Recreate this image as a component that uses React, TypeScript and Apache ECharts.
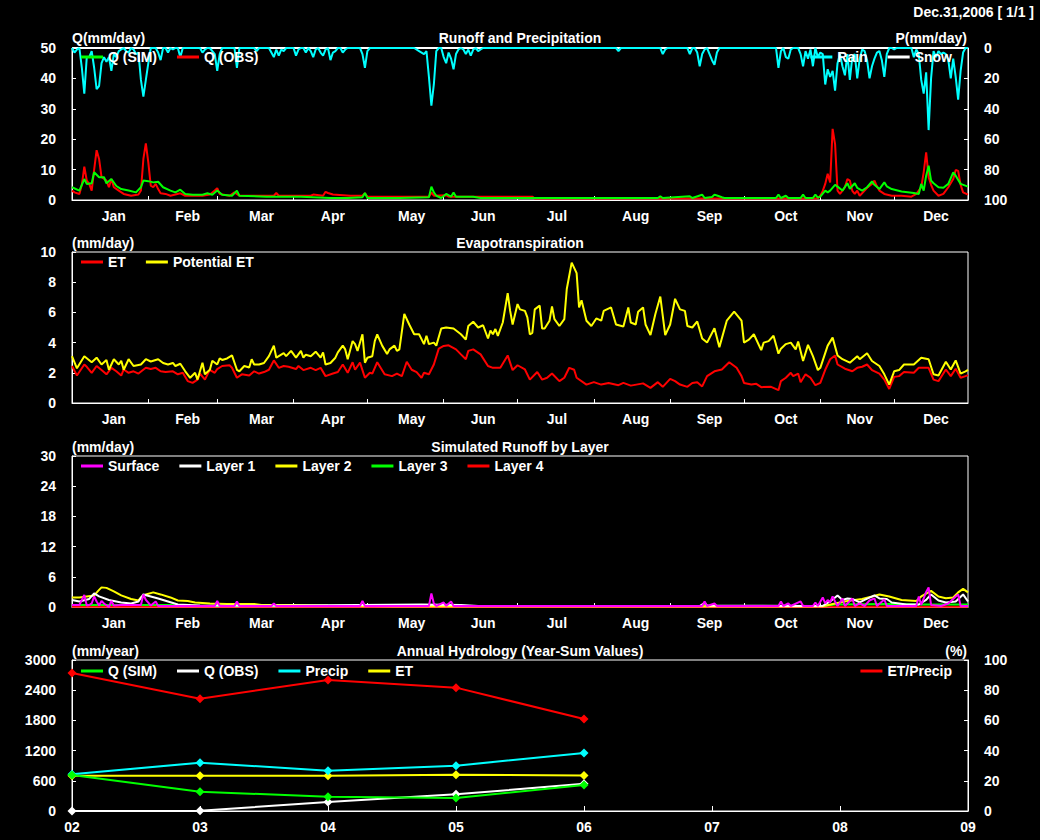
import React, { useEffect, useRef } from "react";
import * as echarts from "echarts";

// ---------- axis data ----------
const DAYS: string[] = Array.from({ length: 365 }, (_, i) => String(i));
const MONTH_NAMES = ["Jan", "Feb", "Mar", "Apr", "May", "Jun", "Jul", "Aug", "Sep", "Oct", "Nov", "Dec"];
const MONTH_STARTS = [0, 31, 59, 90, 120, 151, 181, 212, 243, 273, 304, 334];
const MONTH_LABEL_DAYS = [17, 47, 77, 106, 138, 167, 197, 229, 259, 290, 320, 351];
const YEAR_LABELS = ["02", "03", "04", "05", "06", "07", "08", "09"];

// ---------- panel 1: runoff & precipitation (day, mm/day) ----------
const qSim: number[][] = [[0,4.2],[3,3.1],[5,6.9],[6,5.3],[8,5.5],[9,9.1],[11,7.5],[13,7.5],[14,5.5],[16,6.9],[18,4.6],[20,3.6],[23,3.1],[26,2.5],[28,4.2],[29,6.4],[31,6.2],[33,5.8],[35,6.0],[37,4.2],[40,3.1],[42,2.5],[44,3.4],[46,2.0],[49,1.75],[53,1.75],[55,2.2],[57,1.75],[59,3.1],[61,1.75],[65,1.4],[67,3.1],[68,1.4],[79,1.1],[93,1.1],[105,0.65],[112,0.65],[118,0.9],[119,2.3],[120,0.65],[133,0.65],[145,0.9],[146,4.4],[147,2.5],[148,1.4],[150,0.65],[152,2.0],[154,1.1],[155,2.5],[156,1.1],[163,1.1],[166,0.65],[238,0.65],[239,1.2],[240,0.65],[251,1.2],[252,0.65],[256,1.75],[257,0.65],[260,1.0],[261,1.75],[262,1.5],[264,0.9],[265,0.65],[286,0.65],[287,1.75],[288,0.65],[290,1.4],[291,0.65],[296,0.65],[297,1.75],[298,0.65],[301,0.65],[302,1.75],[303,0.8],[304,1.1],[306,3.1],[307,2.5],[308,3.1],[310,5.0],[311,4.4],[313,3.1],[315,5.5],[316,3.7],[318,5.5],[319,4.0],[321,3.1],[323,4.2],[325,6.1],[326,5.0],[328,3.6],[330,5.8],[331,4.5],[333,3.6],[337,2.8],[342,2.3],[344,2.0],[345,5.3],[346,3.1],[347,8.0],[348,11.3],[349,6.4],[350,5.5],[352,4.2],[354,4.0],[356,5.3],[358,9.1],[359,8.0],[361,5.3],[364,4.4]];
const qObs: number[][] = [[0,3.1],[1,2.5],[3,2.0],[4,5.0],[5,11.0],[6,6.4],[7,5.3],[8,3.1],[9,10.0],[10,16.4],[11,13.5],[12,7.5],[14,6.4],[15,4.2],[16,6.9],[17,4.2],[19,3.1],[21,2.0],[24,1.4],[27,1.8],[28,3.1],[29,13.5],[30,18.6],[31,12.4],[32,4.7],[33,4.2],[34,5.3],[35,3.6],[36,2.2],[38,2.0],[40,1.4],[42,1.8],[44,2.2],[46,1.4],[51,1.4],[53,1.4],[56,1.8],[58,3.1],[59,3.9],[60,2.0],[64,1.4],[66,2.5],[68,1.4],[82,1.4],[83,2.3],[84,1.4],[97,1.4],[98,1.8],[102,1.4],[103,2.7],[104,2.3],[106,1.8],[113,1.4],[118,1.4],[119,2.2],[120,1.1],[145,1.1],[146,2.5],[147,1.4],[152,1.6],[153,1.1],[187,1.1],[188,0.5],[302,0.5],[303,0.6],[304,1.4],[305,3.0],[306,5.3],[307,8.6],[308,5.8],[309,23.4],[310,18.4],[311,3.1],[312,2.0],[313,3.1],[314,4.2],[315,6.9],[316,6.4],[317,3.0],[318,2.0],[319,3.1],[320,1.4],[322,3.1],[323,4.0],[325,5.3],[326,6.4],[327,4.5],[328,3.1],[330,2.0],[333,1.4],[337,1.4],[341,1.1],[343,2.0],[345,4.2],[346,9.1],[347,15.7],[348,7.5],[349,5.0],[350,3.1],[352,1.4],[354,2.0],[356,4.2],[358,6.9],[359,9.9],[360,9.6],[361,5.0],[362,2.5],[364,1.75]];
const rain: number[][] = [[0,0],[1,3],[2,1],[3,0],[4,13],[5,30],[6,6],[7,6],[8,2],[9,13],[10,27],[11,25],[12,10],[13,6],[14,9],[15,6],[16,15],[17,4],[18,6],[19,2],[20,1],[21,0],[22,2],[23,3],[24,0],[25,1],[26,4],[27,3],[28,21],[29,32],[30,21],[31,10],[32,0],[34,0],[35,3],[36,8],[37,0],[38,0],[39,3],[40,0],[41,1],[42,0],[43,0],[44,6],[45,0],[52,0],[53,3],[54,1],[55,0],[56,0],[57,2],[58,4],[59,15],[60,4],[61,0],[66,0],[67,13],[68,0],[74,0],[75,2],[76,0],[80,0],[81,3],[82,6],[83,1],[84,5],[85,1],[86,2],[87,0],[90,0],[91,5],[92,1],[93,0],[94,0],[95,3],[96,0],[97,2],[98,6],[99,1],[100,0],[101,3],[102,5],[103,1],[104,0],[105,8],[106,3],[107,2],[108,0],[109,0],[110,3],[111,1],[112,0],[117,0],[118,4],[119,13],[120,2],[121,0],[139,0],[141,2],[143,4],[144,2],[145,19],[146,38],[147,24],[148,2],[149,0],[150,0],[151,6],[152,10],[153,3],[154,7],[155,14],[156,4],[157,1],[158,0],[159,1],[160,4],[161,1],[162,5],[163,1],[164,0],[165,2],[166,1],[167,0],[221,0],[222,2],[223,0],[239,0],[240,4],[241,1],[242,0],[250,0],[251,4],[252,0],[253,0],[254,3],[255,12],[256,4],[257,1],[258,0],[259,4],[260,8],[261,11],[262,3],[263,0],[286,0],[287,13],[288,2],[289,0],[290,6],[291,7],[292,1],[293,0],[295,0],[296,4],[297,12],[298,2],[299,7],[300,1],[301,12],[302,0],[303,6],[304,3],[305,4],[306,24],[307,14],[308,19],[309,15],[310,28],[311,10],[312,4],[313,12],[314,18],[315,4],[316,21],[317,6],[318,4],[319,20],[320,7],[321,1],[322,2],[323,8],[324,20],[325,12],[326,7],[327,3],[328,2],[329,8],[330,19],[331,4],[332,0],[333,0],[334,1],[335,0],[341,0],[342,6],[343,1],[344,4],[345,21],[346,30],[347,16],[348,54],[349,20],[350,2],[351,6],[352,2],[353,4],[354,3],[355,4],[356,8],[357,20],[358,7],[359,19],[360,34],[361,15],[362,3],[363,0],[364,0]];
const snow: number[][] = [[0,0],[364,0]];

// ---------- panel 2: evapotranspiration (day, mm/day) ----------
const pet: number[][] = [[0,3.1],[2,2.3],[5,3.1],[8,2.7],[10,3.0],[12,2.55],[14,2.85],[15,2.2],[17,2.9],[19,2.55],[20,2.8],[21,2.2],[23,2.9],[25,2.45],[28,2.55],[30,2.9],[32,2.75],[35,2.9],[37,2.65],[39,2.55],[41,2.65],[42,2.45],[44,2.6],[46,2.1],[48,1.67],[50,2.0],[51,1.55],[53,2.67],[54,1.9],[56,2.2],[57,2.8],[59,2.55],[60,2.95],[61,2.85],[63,2.95],[65,3.15],[67,2.2],[68,2.1],[70,2.45],[72,2.35],[73,2.9],[74,2.55],[76,2.55],[78,2.65],[80,3.1],[82,3.8],[83,3.0],[86,3.3],[87,3.1],[89,3.45],[91,3.0],[93,3.45],[94,3.0],[95,3.2],[97,3.1],[99,3.4],[101,3.0],[102,3.35],[103,2.55],[105,2.65],[107,3.0],[108,3.35],[110,3.8],[111,3.55],[112,2.9],[114,4.1],[115,3.9],[116,3.45],[118,4.55],[119,2.67],[120,3.0],[122,3.1],[123,4.1],[124,4.55],[126,3.8],[128,3.25],[129,3.55],[131,3.8],[132,3.45],[133,3.55],[135,5.9],[137,5.2],[139,4.55],[141,4.55],[143,3.9],[144,4.45],[145,3.9],[147,4.0],[148,3.8],[150,4.93],[152,5.0],[155,4.93],[158,4.55],[160,4.2],[161,5.1],[163,5.38],[165,5.0],[167,5.15],[169,4.27],[170,4.8],[171,4.55],[172,4.9],[173,4.45],[175,5.33],[177,7.27],[178,6.1],[179,5.2],[181,6.55],[182,6.2],[184,6.1],[185,5.67],[186,4.55],[187,4.65],[188,6.2],[190,6.45],[191,4.93],[192,4.93],[194,5.45],[195,6.4],[196,5.55],[198,5.1],[200,5.55],[201,7.55],[203,9.3],[205,8.6],[206,6.33],[207,6.8],[209,5.45],[211,5.1],[213,5.6],[215,5.45],[216,6.1],[219,6.33],[221,5.2],[224,5.07],[226,6.33],[227,5.33],[229,5.2],[230,6.05],[232,6.33],[233,5.2],[235,4.5],[237,5.9],[239,7.05],[241,4.5],[243,5.2],[245,6.9],[247,6.2],[249,6.1],[250,5.1],[252,5.0],[254,5.4],[256,4.27],[258,4.0],[261,4.95],[263,3.7],[266,5.45],[269,6.05],[272,5.45],[273,4.0],[275,4.2],[277,4.55],[280,3.5],[281,4.0],[283,4.1],[285,4.45],[287,3.27],[288,3.6],[290,3.9],[292,4.0],[294,3.55],[295,4.07],[297,2.78],[299,3.85],[301,3.1],[303,2.18],[304,2.33],[307,3.8],[309,4.33],[311,3.15],[313,2.9],[316,2.67],[319,3.1],[320,2.9],[323,3.3],[325,2.78],[328,2.45],[330,1.9],[332,1.22],[334,2.1],[336,2.18],[338,2.55],[342,2.55],[345,3.0],[348,2.9],[350,1.9],[352,1.82],[355,2.73],[357,2.22],[359,2.82],[361,1.95],[363,2.1],[364,2.2]];
const et: number[][] = [[0,2.45],[2,1.82],[5,2.55],[6,2.4],[8,2.0],[10,2.45],[12,2.18],[14,1.9],[16,2.33],[18,2.1],[20,1.82],[21,2.22],[23,2.0],[25,2.1],[27,1.95],[30,2.33],[32,2.25],[34,2.33],[36,2.1],[38,2.05],[41,2.1],[43,1.9],[45,2.0],[47,1.45],[49,1.33],[51,1.55],[52,1.95],[54,1.55],[56,2.2],[58,2.0],[59,2.25],[61,2.45],[64,2.5],[65,2.33],[67,1.67],[69,1.9],[72,1.82],[74,2.1],[76,1.95],[78,2.05],[80,2.2],[82,2.82],[84,2.33],[86,2.45],[88,2.4],[91,2.25],[92,2.45],[94,2.18],[97,2.33],[99,2.18],[101,2.33],[103,1.78],[106,1.95],[108,2.05],[110,2.55],[112,2.0],[114,2.7],[115,2.2],[117,2.67],[119,1.67],[121,2.0],[122,1.95],[124,2.7],[127,1.9],[130,1.78],[132,1.95],[134,1.78],[136,2.73],[138,2.2],[140,2.05],[142,1.67],[143,2.0],[145,1.9],[147,2.55],[149,3.6],[151,3.78],[153,3.82],[156,3.55],[158,3.22],[160,2.9],[161,3.45],[163,3.55],[166,3.22],[169,2.45],[171,2.33],[174,2.33],[177,3.15],[179,2.18],[181,2.5],[184,2.22],[186,1.55],[189,2.05],[191,1.55],[193,1.67],[195,1.95],[198,1.45],[200,1.67],[202,2.33],[204,2.2],[205,1.67],[209,1.22],[212,1.38],[215,1.22],[218,1.33],[222,1.18],[224,1.33],[227,1.15],[232,1.3],[235,1.0],[238,1.38],[240,1.07],[243,1.6],[245,1.45],[247,1.22],[250,1.07],[252,1.33],[254,1.38],[256,1.1],[258,1.78],[261,2.1],[264,2.22],[267,2.7],[270,2.33],[272,1.78],[273,1.33],[276,1.22],[278,1.27],[280,1.05],[284,1.07],[287,0.85],[288,1.45],[290,1.67],[292,2.0],[293,1.78],[295,1.95],[296,1.38],[298,1.9],[300,1.67],[302,1.18],[304,1.33],[306,2.2],[308,2.9],[310,3.15],[311,2.55],[314,2.27],[317,2.1],[319,2.33],[321,2.4],[323,2.55],[325,2.18],[328,1.95],[330,1.55],[332,0.93],[334,1.73],[336,1.78],[338,2.05],[342,2.0],[344,2.33],[348,2.33],[350,1.55],[352,1.45],[355,2.22],[357,1.78],[359,2.27],[361,1.67],[363,1.78],[364,1.85]];

// ---------- panel 3: simulated runoff by layer (day, mm/day) ----------
const surface: number[][] = [[0,0.4],[3,0.4],[4,1.4],[5,2.4],[6,0.3],[7,0.4],[8,0.7],[9,2.1],[10,1.1],[11,0.3],[12,1.2],[13,0.7],[15,0],[16,1.2],[17,0.3],[20,0.4],[28,0.4],[29,2.5],[30,1.4],[32,0.3],[34,1.1],[35,0.2],[44,0.2],[58,0.2],[59,1.2],[60,0.2],[66,0.2],[67,1.1],[68,0.2],[81,0.2],[82,0.7],[83,0.2],[117,0.2],[118,1.2],[119,0.2],[145,0.2],[146,2.7],[147,0.7],[148,0.2],[151,0.9],[152,0.2],[154,1.1],[155,0.2],[256,0.2],[257,1.1],[258,0.2],[261,0.7],[262,0.2],[287,0.2],[288,1.1],[289,0.2],[291,0.7],[292,0.2],[296,1.1],[297,0.2],[301,0.2],[302,0.9],[303,0.2],[305,1.9],[306,0.7],[307,1.4],[308,0.9],[309,2.1],[310,1.1],[311,0.2],[312,0.9],[313,1.7],[314,0.2],[317,1.7],[318,0.2],[320,0.7],[322,0.2],[324,1.3],[326,1.7],[327,0.2],[330,1.5],[331,0.2],[343,0.2],[344,2.1],[345,0.4],[347,3.0],[348,3.9],[349,0.4],[353,0.2],[356,0.7],[359,2.1],[360,2.5],[361,0.2],[364,0.2]];
const layer1: number[][] = [[0,1.4],[3,1.1],[7,1.6],[9,2.7],[11,2.1],[15,1.4],[20,0.9],[24,0.7],[27,1.1],[29,2.5],[32,2.1],[35,1.7],[39,1.1],[43,0.5],[52,0.3],[77,0.25],[142,0.5],[158,0.4],[165,0.2],[255,0.2],[257,0.8],[258,0.3],[300,0.2],[305,0.25],[308,1.1],[311,2.3],[313,1.4],[315,1.7],[317,1.6],[320,0.9],[322,1.4],[326,2.3],[328,1.7],[331,1.6],[333,0.9],[339,0.5],[344,0.5],[347,1.4],[349,2.5],[352,1.3],[355,0.9],[359,1.1],[362,2.5],[364,1.1]];
const layer2: number[][] = [[0,1.9],[3,1.9],[6,2.1],[9,2.3],[11,3.4],[12,3.9],[14,3.8],[17,3.1],[20,2.3],[24,1.6],[27,1.3],[28,1.9],[30,2.5],[33,2.9],[36,2.5],[40,1.9],[43,1.3],[47,1.2],[50,0.9],[56,0.7],[63,0.6],[74,0.6],[77,0.4],[90,0.4],[104,0.3],[131,0.15],[300,0.15],[305,0.15],[310,0.7],[315,1.2],[321,1.6],[325,2.1],[328,2.5],[332,2.1],[337,1.4],[343,1.2],[345,2.1],[349,3.2],[352,2.1],[355,1.75],[358,1.9],[360,2.9],[362,3.6],[364,2.9]];
const layer3: number[][] = [[0,0.4],[40,0.4],[45,0.2],[300,0.2],[305,0.2],[310,0.5],[330,0.6],[345,0.5],[364,0.5]];
const layer4: number[][] = [[0,0.05],[364,0.05]];

// ---------- panel 4: annual hydrology (year 02..06) ----------
const annualYears = [2, 3, 4, 5, 6];
const annualQSim = [715, 383, 285, 258, 517];
const annualQObs = [0, 5, 179, 331, 540];
const annualPrecip = [730, 960, 801, 900, 1152];
const annualET = [700, 700, 700, 720, 705];
const annualETRatio = [91.4, 74.4, 86.8, 81.7, 60.9];

const FONT = '"Liberation Sans", Arial, Helvetica, sans-serif';
const WHITE = "#ffffff";

const pair = (xs: number[], ys: number[]) => xs.map((x, i) => [x, ys[i]]);

function dailyXAxis(gridIndex: number) {
  return {
    type: "category",
    gridIndex,
    data: DAYS,
    boundaryGap: false,
    axisLine: { show: true, lineStyle: { color: WHITE, width: 1 } },
    axisTick: {
      show: true,
      inside: true,
      length: 4,
      interval: (index: number) => MONTH_STARTS.indexOf(index) > 0,
      lineStyle: { color: WHITE },
    },
    axisLabel: {
      show: true,
      interval: (index: number) => MONTH_LABEL_DAYS.indexOf(index) >= 0,
      formatter: (value: string) => {
        const k = MONTH_LABEL_DAYS.indexOf(Number(value));
        return k >= 0 ? MONTH_NAMES[k] : "";
      },
      color: WHITE,
      fontSize: 14,
      fontWeight: "bold",
      fontFamily: FONT,
      margin: 9,
    },
    splitLine: { show: false },
  };
}

function valueYAxis(gridIndex: number, min: number, max: number, interval: number, position: string, inverse = false) {
  return {
    type: "value",
    gridIndex,
    min,
    max,
    interval,
    position,
    inverse,
    axisLine: { show: true, lineStyle: { color: WHITE, width: 1 } },
    axisTick: { show: true, inside: true, length: 4, lineStyle: { color: WHITE } },
    axisLabel: {
      color: WHITE,
      fontSize: 14,
      fontWeight: "bold",
      fontFamily: FONT,
      margin: 16,
      formatter: (v: number) => String(v),
    },
    splitLine: { show: false },
  };
}

function lineSeries(name: string, color: string, data: number[][], xAxisIndex: number, yAxisIndex: number, z = 2) {
  return {
    type: "line",
    name,
    data,
    xAxisIndex,
    yAxisIndex,
    symbol: "none",
    z,
    lineStyle: { color, width: 2 },
    itemStyle: { color },
    silent: true,
  };
}

function annualSeries(name: string, color: string, ys: number[], yAxisIndex: number, z = 3) {
  return {
    type: "line",
    name,
    data: pair(annualYears, ys),
    xAxisIndex: 3,
    yAxisIndex,
    symbol: "diamond",
    symbolSize: 9,
    z,
    lineStyle: { color, width: 2 },
    itemStyle: { color },
    silent: true,
  };
}

function legend(data: string[], pos: { left?: number; right?: number; top: number }) {
  return {
    data,
    ...pos,
    orient: "horizontal",
    icon: "rect",
    itemWidth: 22,
    itemHeight: 3,
    itemGap: 20,
    padding: 0,
    selectedMode: false,
    formatter: (n: string) => n.trim(),
    textStyle: { color: WHITE, fontSize: 14, fontWeight: "bold", fontFamily: FONT },
  };
}

function text(t: string, x: number, y: number, align: string) {
  return {
    type: "text",
    x,
    y,
    silent: true,
    style: {
      text: t,
      fill: WHITE,
      font: `bold 14px ${FONT}`,
      textAlign: align,
      textVerticalAlign: "middle",
    },
  };
}

export default function App() {
  const ref = useRef<HTMLDivElement>(null);

  useEffect(() => {
    if (!ref.current) return;
    const chart = echarts.init(ref.current, undefined, { renderer: "svg" });
    const gridBase = { left: 72, width: 896, show: true, borderColor: WHITE, borderWidth: 1, backgroundColor: "transparent", containLabel: false };
    chart.setOption({
      animation: false,
      backgroundColor: "#000000",
      grid: [
        { ...gridBase, top: 48, height: 152 },
        { ...gridBase, top: 252, height: 151 },
        { ...gridBase, top: 456, height: 151 },
        { ...gridBase, top: 660, height: 151 },
      ],
      xAxis: [
        dailyXAxis(0),
        dailyXAxis(1),
        dailyXAxis(2),
        {
          type: "value",
          gridIndex: 3,
          min: 2,
          max: 9,
          interval: 1,
          axisLine: { show: true, lineStyle: { color: WHITE } },
          axisTick: { show: true, inside: true, length: 5, lineStyle: { color: WHITE } },
          axisLabel: {
            formatter: (v: number) => YEAR_LABELS[v - 2] ?? "",
            color: WHITE,
            fontSize: 14,
            fontWeight: "bold",
            fontFamily: FONT,
            margin: 9,
          },
          splitLine: { show: false },
        },
      ],
      yAxis: [
        valueYAxis(0, 0, 50, 10, "left"),
        valueYAxis(0, 0, 100, 20, "right", true),
        valueYAxis(1, 0, 10, 2, "left"),
        valueYAxis(2, 0, 30, 6, "left"),
        valueYAxis(3, 0, 3000, 600, "left"),
        valueYAxis(3, 0, 100, 20, "right"),
      ],
      legend: [
        legend(["Q (SIM)", "Q (OBS)"], { left: 81, top: 50 }),
        legend(["Rain", "Snow"], { right: 88, top: 50 }),
        legend(["ET", "Potential ET"], { left: 81, top: 255 }),
        legend(["Surface", "Layer 1", "Layer 2", "Layer 3", "Layer 4"], { left: 81, top: 459 }),
        legend(["Q (SIM) ", "Q (OBS) ", "Precip", "ET "], { left: 81, top: 664 }),
        legend(["ET/Precip"], { right: 88, top: 664 }),
      ],
      series: [
        lineSeries("Snow", WHITE, snow, 0, 1, 2),
        lineSeries("Rain", "#00ffff", rain, 0, 1, 3),
        lineSeries("Q (OBS)", "#ff0000", qObs, 0, 0, 4),
        lineSeries("Q (SIM)", "#00ff00", qSim, 0, 0, 5),
        lineSeries("ET", "#ff0000", et, 1, 2, 3),
        lineSeries("Potential ET", "#ffff00", pet, 1, 2, 4),
        lineSeries("Layer 4", "#ff0000", layer4, 2, 3, 2),
        lineSeries("Layer 3", "#00ff00", layer3, 2, 3, 3),
        lineSeries("Layer 2", "#ffff00", layer2, 2, 3, 4),
        lineSeries("Layer 1", WHITE, layer1, 2, 3, 5),
        lineSeries("Surface", "#ff00ff", surface, 2, 3, 6),
        annualSeries("ET/Precip", "#ff0000", annualETRatio, 5, 3),
        annualSeries("ET ", "#ffff00", annualET, 4, 4),
        annualSeries("Precip", "#00ffff", annualPrecip, 4, 5),
        annualSeries("Q (OBS) ", WHITE, annualQObs, 4, 6),
        annualSeries("Q (SIM) ", "#00ff00", annualQSim, 4, 7),
      ],
      graphic: [
        text("Dec.31,2006 [ 1/1 ]", 1034, 12, "right"),
        text("Q(mm/day)", 72, 38, "left"),
        text("Runoff and Precipitation", 520, 38, "center"),
        text("P(mm/day)", 967, 38, "right"),
        text("(mm/day)", 72, 243, "left"),
        text("Evapotranspiration", 520, 243, "center"),
        text("(mm/day)", 72, 447, "left"),
        text("Simulated Runoff by Layer", 520, 447, "center"),
        text("(mm/year)", 72, 651, "left"),
        text("Annual Hydrology (Year-Sum Values)", 520, 651, "center"),
        text("(%)", 967, 651, "right"),
      ],
    });
    return () => chart.dispose();
  }, []);

  return (
    <div
      ref={ref}
      style={{ position: "absolute", left: 0, top: 0, width: 1040, height: 840, background: "#000" }}
    />
  );
}
